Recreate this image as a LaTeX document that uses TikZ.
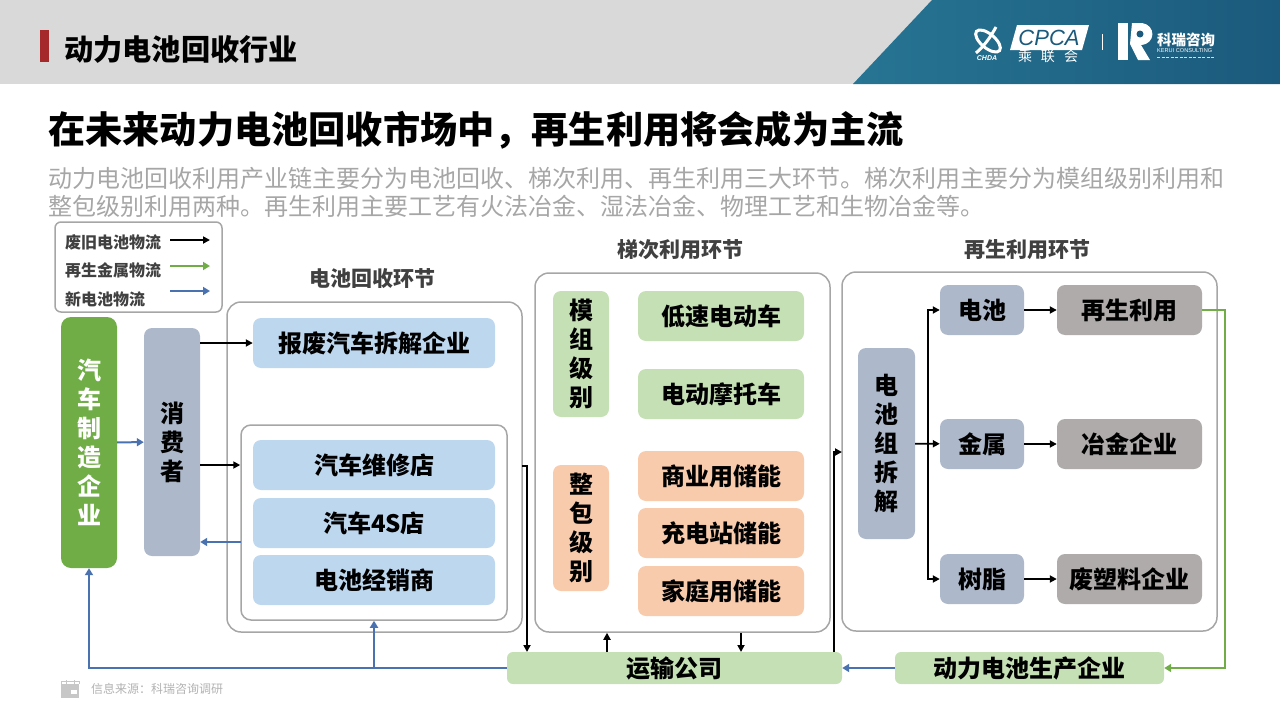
\documentclass[tikz,border=0pt]{standalone}
\usepackage{fontspec}
\setmainfont{Noto Sans CJK SC}
\newfontfamily\latinfont{Liberation Sans}
\usetikzlibrary{arrows.meta}
\definecolor{headgray}{HTML}{D9D9D9}
\definecolor{tealleft}{HTML}{277493}
\definecolor{tealright}{HTML}{1B5A7C}
\definecolor{barred}{HTML}{A5282B}
\definecolor{framegray}{HTML}{A6A6A6}
\definecolor{bluefill}{HTML}{BDD7EE}
\definecolor{greenfill}{HTML}{C5E0B4}
\definecolor{orangefill}{HTML}{F8CBAD}
\definecolor{slatefill}{HTML}{ADB9CA}
\definecolor{stonefill}{HTML}{AFABAB}
\definecolor{carfill}{HTML}{70AD47}
\definecolor{flowblue}{HTML}{4A72B0}
\definecolor{flowgreen}{HTML}{70AD47}
\definecolor{subgray}{HTML}{A6A6A6}
\begin{document}
\begin{tikzpicture}
  [x=1pt,y=-1pt,
   frame/.style={draw=framegray,line width=1.5pt,rounded corners=14pt,inner sep=0pt},
   tag/.style 2 args={rounded corners=8pt,inner sep=0pt,align=center,font=\fontsize{24}{29}\selectfont\bfseries,minimum width=#1pt,minimum height=#2pt},
   head/.style={inner sep=0pt,font=\fontsize{21}{24}\selectfont\bfseries,text=black!75},
   legend/.style={inner sep=0pt,anchor=west,font=\fontsize{16}{18}\selectfont\bfseries,text=black!75},
   blackflow/.style={draw=black,line width=1.8pt,-{Triangle[length=7pt,width=7pt]}},
   blueflow/.style={draw=flowblue,line width=2pt,-{Triangle[length=7pt,width=8pt]}},
   greenflow/.style={draw=flowgreen,line width=1.8pt,-{Triangle[length=7pt,width=8pt]}}]
  \useasboundingbox (0,0) rectangle (1280,720);

  % header
  \fill[headgray] (0,0) rectangle (1280,84);
  \shade[left color=tealleft,right color=tealright] (853,84) -- (932,0) -- (1280,0) -- (1280,84) -- cycle;
  \fill[barred] (40,30) rectangle (49,62);
  \node[inner sep=0pt,anchor=west,font=\fontsize{29.2}{32}\selectfont\bfseries] (pagetitle) at (64,49) {动力电池回收行业};

  % logos
  \draw[white,line width=3pt,rotate around={-40:(988,41)}] (988,41) ellipse (15 and 7);
  \draw[white,line width=3pt] (996,27) .. controls (990,38) and (984,46) .. (976,53);
  \node[inner sep=0pt,text=white,font=\latinfont\fontsize{7}{8}\selectfont\bfseries\itshape] (chda) at (987,58) {CHDA};
  \fill[white] (1017,25) -- (1089,25) -- (1082,50) -- (1010,50) -- cycle;
  \node[inner sep=0pt,text=tealright,font=\latinfont\fontsize{22}{24}\selectfont\itshape] (cpca) at (1049,38) {CPCA};
  \node[inner sep=0pt,text=white,font=\fontsize{14}{15}\selectfont] (cpcacn) at (1048,56) {乘\hspace{9pt}联\hspace{9pt}会};
  \draw[white,line width=.6pt] (1102,34) -- (1102,50);
  \fill[white] (1118,23) -- (1128,23) -- (1128,60) -- (1118,60) -- cycle;
  \fill[white] (1132,23) -- (1142,23) .. controls (1156,25) and (1156,44) .. (1141,45) -- (1150,60) -- (1138,60) -- (1130,44) -- cycle;
  \fill[tealright] (1140,34) circle (3.5);
  \node[inner sep=0pt,anchor=west,text=white,font=\fontsize{14.5}{16}\selectfont\bfseries] (keruicn) at (1157,40) {科瑞咨询};
  \node[inner sep=0pt,anchor=west,text=white,font=\latinfont\fontsize{5.6}{6}\selectfont] (keruien) at (1157,51) {KERUI CONSULTING};
  \draw[white!80!tealright,line width=1.2pt,dash pattern=on 3pt off 1.5pt] (1157,57.5) -- (1215,57.5);

  % titles
  \node[inner sep=0pt,anchor=west,font=\fontsize{37.2}{40}\selectfont\bfseries] (maintitle) at (48,130) {在未来动力电池回收市场中，再生利用将会成为主流};
  \node[inner sep=0pt,anchor=west,text=subgray,font=\fontsize{24}{26}\selectfont] (subline1) at (48,178) {动力电池回收利用产业链主要分为电池回收、梯次利用、再生利用三大环节。梯次利用主要分为模组级别利用和};
  \node[inner sep=0pt,anchor=west,text=subgray,font=\fontsize{24}{26}\selectfont] (subline2) at (48,206) {整包级别利用两种。再生利用主要工艺有火法冶金、湿法冶金、物理工艺和生物冶金等。};

  % legend
  \node[frame,rounded corners=6pt,minimum width=167pt,minimum height=90pt] (legendbox) at (138.5,267) {};
  \node[legend] (oldtext) at (65,242) {废旧电池物流};
  \node[legend] (metaltext) at (65,270) {再生金属物流};
  \node[legend] (newtext) at (65,299) {新电池物流};
  \coordinate (old1) at (170,240);
  \coordinate (old2) at (210,240);
  \coordinate (metal1) at (170,266);
  \coordinate (metal2) at (210,266);
  \coordinate (new1) at (170,291);
  \coordinate (new2) at (210,291);

  % frames
  \node[frame,minimum width=295pt,minimum height=330pt] (recycle) at (374.5,467) {};
  \node[frame,rounded corners=10pt,minimum width=266pt,minimum height=195pt] (dealers) at (374,522.5) {};
  \node[frame,minimum width=295pt,minimum height=359pt] (cascade) at (682.5,452.5) {};
  \node[frame,minimum width=375pt,minimum height=359pt] (regen) at (1029.5,451.5) {};
  \node[head] (recyclehead) at (372,279) {电池回收环节};
  \node[head] (cascadehead) at (680,250) {梯次利用环节};
  \node[head] (regenhead) at (1027,250) {再生利用环节};

  % left column
  \node[tag={56}{251},fill=carfill,text=white,rounded corners=10pt] (maker) at (89,442.5) {汽\\车\\制\\造\\企\\业};
  \node[tag={56}{228},fill=slatefill] (buyer) at (172,442) {消\\费\\者};

  % recycling
  \node[tag={242}{50},fill=bluefill] (scrap) at (374,343) {报废汽车拆解企业};
  \node[tag={242}{50},fill=bluefill] (repair) at (374,465) {汽车维修店};
  \node[tag={242}{50},fill=bluefill] (fours) at (374,523) {汽车4S店};
  \node[tag={242}{50},fill=bluefill] (seller) at (374,580) {电池经销商};

  % cascade use
  \node[tag={56}{126},fill=greenfill] (module) at (581,354) {模\\组\\级\\别};
  \node[tag={56}{126},fill=orangefill] (pack) at (581,528) {整\\包\\级\\别};
  \node[tag={166}{50},fill=greenfill] (lowcar) at (721,316) {低速电动车};
  \node[tag={166}{50},fill=greenfill] (moto) at (721,394) {电动摩托车};
  \node[tag={166}{50},fill=orangefill] (shops) at (721,476) {商业用储能};
  \node[tag={166}{50},fill=orangefill] (station) at (721,533) {充电站储能};
  \node[tag={166}{50},fill=orangefill] (home) at (721,591) {家庭用储能};

  % regeneration
  \node[tag={57}{191},fill=slatefill] (split) at (886.5,443.5) {电\\池\\组\\拆\\解};
  \node[tag={84}{50},fill=slatefill] (cell) at (982,310) {电池};
  \node[tag={84}{50},fill=slatefill] (metal) at (982,444) {金属};
  \node[tag={84}{50},fill=slatefill] (resin) at (982,579) {树脂};
  \node[tag={145}{50},fill=stonefill] (reuse) at (1129.5,310) {再生利用};
  \node[tag={145}{50},fill=stonefill] (smelter) at (1129.5,444) {冶金企业};
  \node[tag={145}{50},fill=stonefill] (plastic) at (1129.5,579) {废塑料企业};

  % bottom row
  \node[tag={335}{32},fill=greenfill,rounded corners=6pt] (truck) at (674.5,668) {运输公司};
  \node[tag={269}{32},fill=greenfill,rounded corners=6pt] (batteryco) at (1029.5,668) {动力电池生产企业};

  % source
  \fill[black!22] (61,684) rectangle (79,698);
  \draw[black!22,line width=1pt] (61,684) -- (61,681) -- (79,681) -- (79,684) (66,680) -- (66,684) (74,680) -- (74,684);
  \fill[white] (71,690) rectangle (77,694);
  \node[inner sep=0pt,anchor=west,text=black!30,font=\fontsize{12}{13}\selectfont] (source) at (91,689) {信息来源：科瑞咨询调研};

  % black flows
  \foreach \from/\to in {old1/old2,cell/reuse,metal/smelter,resin/plastic,split/metal}
     \draw[blackflow] (\from) -- (\to);
  \coordinate (junction) at (928,444);
  \foreach \to in {cell,resin}
     \draw[blackflow] (junction) |- (\to);
  \draw[blackflow] (buyer.east |- scrap) -- (scrap);
  \draw[blackflow] (buyer.east |- repair) -- (dealers.west |- repair);
  \coordinate (recycleout) at (522,466);
  \coordinate (truckin) at (527,652);
  \draw[blackflow] (recycleout) -| (truckin);
  \coordinate (upleg) at (607,652);
  \coordinate (downleg) at (741,652);
  \draw[blackflow] (upleg) -- (upleg |- cascade.south);
  \draw[blackflow] (downleg |- cascade.south) -- (downleg);
  \coordinate (truckout) at (834,652);
  \coordinate (regenin) at (842,452);
  \draw[blackflow] (truckout) |- (regenin);

  % blue flows
  \foreach \from/\to in {new1/new2,maker/buyer,batteryco/truck}
     \draw[blueflow] (\from) -- (\to);
  \coordinate (backflow) at (241,542);
  \draw[blueflow] (backflow) -- (buyer.east |- backflow);
  \draw[blueflow] (truck.west) -| (maker.south);
  \draw[blueflow] (dealers.south |- truck) -- (dealers.south);

  % green flows
  \draw[greenflow] (metal1) -- (metal2);
  \coordinate (greenturn) at (1225,490);
  \draw[greenflow] (reuse.east) -| (greenturn) |- (batteryco.east);
\end{tikzpicture}
\end{document}
